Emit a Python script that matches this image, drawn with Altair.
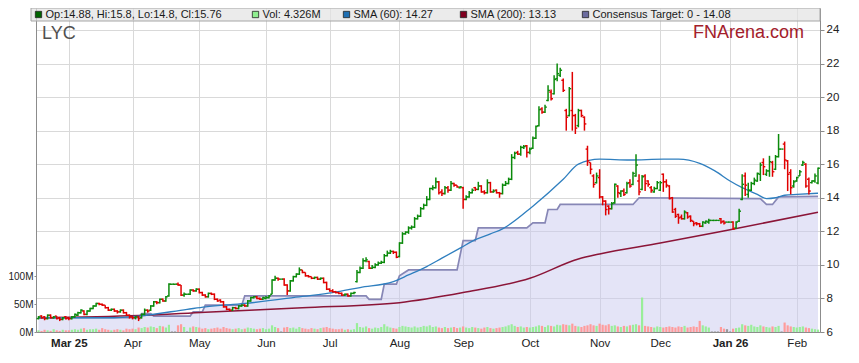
import altair as alt
import pandas as pd

# ---------------- data ----------------
opens = [
    6.80, 6.95, 6.90, 6.80, 7.00, 6.85, 6.95, 6.85, 6.75, 6.90,  # Feb 25
    6.85, 6.80, 6.90, 7.00, 7.15, 7.25, 7.05, 7.25, 7.40, 7.55, 7.70, 7.65, 7.60, 7.45, 7.30, 7.35, 7.25, 7.20, 7.30, 7.15, 7.00,  # Mar
    6.90, 6.85, 6.90, 6.85, 7.05, 7.30, 7.30, 7.55, 7.80, 7.75, 7.95, 7.85, 8.15, 8.85, 8.85, 8.85, 8.80, 8.20, 8.25, 8.25, 8.50, 8.45,  # Apr
    8.55, 8.35, 8.20, 8.10, 8.30, 8.25, 7.95, 7.90, 7.80, 7.50, 7.35, 7.30, 7.45, 7.40, 7.55, 7.60, 7.55, 7.85, 8.05, 8.10, 8.00, 7.95,  # May
    8.00, 8.05, 8.25, 9.10, 9.20, 9.15, 9.15, 8.80, 8.45, 9.05, 9.30, 9.45, 9.70, 9.55, 9.35, 9.30, 9.20, 9.25, 9.15, 9.20, 8.95,  # Jun
    8.55, 8.45, 8.40, 8.35, 8.30, 8.20, 8.25, 8.15, 8.30, 9.00, 9.55, 9.80, 10.25, 10.20, 9.80, 9.85, 10.00, 10.10, 10.15, 10.55, 10.70, 10.80, 10.75,  # Jul
    10.50, 11.30, 11.85, 11.95, 12.20, 12.25, 12.75, 12.90, 13.35, 13.55, 13.90, 14.55, 14.60, 14.95, 14.35, 14.25, 14.60, 14.45, 14.85, 14.75, 14.60,  # Aug
    14.60, 13.90, 14.05, 14.30, 14.60, 14.50, 14.70, 14.35, 14.30, 14.90, 14.35, 14.45, 14.30, 14.25, 14.75, 14.85, 15.10, 16.40, 16.70, 16.60, 17.00, 17.10,  # Sep
    16.70, 16.95, 17.55, 18.30, 19.30, 19.10, 19.80, 20.30, 20.20, 21.10, 21.30, 21.00, 19.20, 18.90, 19.20, 18.90, 18.30, 19.20, 18.80, 16.90, 16.10, 15.30, 14.90,  # Oct
    15.20, 14.05, 13.80, 13.50, 13.35, 13.70, 14.70, 14.25, 14.40, 14.30, 14.90, 14.80, 15.30, 15.00, 14.50, 15.30, 15.00, 14.60, 14.35, 14.55,  # Nov
    14.45, 15.40, 14.95, 14.70, 14.00, 13.30, 13.00, 12.85, 12.75, 13.10, 12.90, 12.60, 12.50, 12.45, 12.30, 12.50, 12.55, 12.65, 12.65, 12.65, 12.75, 12.60, 12.55,  # Dec
    12.55, 12.55, 12.20, 12.60, 13.90, 15.30, 14.20, 14.45, 14.85, 15.00, 15.40, 16.10, 15.40, 15.60, 16.10, 15.70, 16.45, 16.90, 17.20, 16.20, 15.50, 14.70,  # Jan 26
    15.00, 15.30, 15.95, 16.00, 15.10, 14.90, 15.00, 14.88,  # Feb
]
highs = [
    6.95, 7.00, 6.95, 7.05, 7.05, 6.95, 6.95, 6.90, 6.90, 6.95,
    6.90, 6.95, 7.10, 7.20, 7.35, 7.30, 7.30, 7.45, 7.60, 7.75, 7.75, 7.70, 7.60, 7.50, 7.40, 7.40, 7.30, 7.35, 7.35, 7.20, 7.05,
    6.95, 6.95, 6.95, 7.10, 7.40, 7.35, 7.60, 7.85, 7.85, 8.00, 8.00, 8.15, 8.90, 8.85, 8.85, 8.95, 8.80, 8.35, 8.25, 8.55, 8.55, 8.60,
    8.60, 8.40, 8.25, 8.35, 8.35, 8.30, 8.00, 7.95, 7.85, 7.55, 7.40, 7.50, 7.50, 7.60, 7.65, 7.65, 7.90, 8.10, 8.15, 8.15, 8.05, 8.10,
    8.15, 8.20, 9.15, 9.35, 9.25, 9.15, 9.20, 8.85, 9.10, 9.35, 9.50, 9.85, 9.70, 9.55, 9.40, 9.30, 9.30, 9.30, 9.25, 9.25, 9.00,
    8.60, 8.55, 8.45, 8.40, 8.35, 8.30, 8.30, 8.35, 8.40, 9.70, 9.90, 10.40, 10.45, 10.25, 10.00, 10.10, 10.20, 10.25, 10.65, 10.85, 10.90, 10.85, 10.80,
    11.35, 11.95, 12.00, 12.30, 12.35, 12.85, 13.00, 13.45, 13.65, 14.10, 14.60, 14.75, 15.20, 15.00, 14.50, 14.70, 14.70, 15.00, 14.90, 14.75, 14.70,
    14.65, 14.15, 14.40, 14.55, 14.65, 14.95, 14.75, 14.45, 15.10, 14.95, 14.50, 14.50, 14.35, 14.85, 15.00, 15.20, 16.60, 16.75, 16.80, 17.10, 17.15, 17.15,
    17.00, 17.65, 18.30, 19.45, 19.40, 19.55, 20.70, 20.45, 21.30, 22.00, 21.75, 21.10, 19.30, 20.60, 21.50, 19.00, 19.30, 19.25, 18.85, 17.10, 16.10, 15.40, 15.50,
    15.70, 14.10, 13.85, 13.55, 13.75, 14.85, 14.75, 14.45, 14.55, 14.95, 15.10, 15.55, 16.60, 15.40, 15.35, 15.40, 15.05, 14.70, 14.65, 15.00,
    15.00, 15.45, 15.10, 14.75, 14.05, 13.40, 13.05, 13.00, 13.25, 13.15, 12.95, 12.60, 12.55, 12.50, 12.60, 12.65, 12.75, 12.65, 12.65, 12.65, 12.80, 12.65, 12.55,
    12.55, 12.60, 12.60, 13.35, 15.40, 15.50, 14.90, 14.95, 15.20, 15.50, 16.10, 16.35, 15.70, 16.50, 16.20, 16.55, 17.80, 16.90, 17.35, 16.25, 15.70, 15.05,
    15.25, 15.65, 16.20, 16.05, 15.20, 15.05, 15.45, 15.80,
]
lows = [
    6.75, 6.80, 6.70, 6.75, 6.80, 6.80, 6.75, 6.65, 6.70, 6.75,
    6.70, 6.75, 6.85, 6.95, 7.10, 7.00, 7.00, 7.20, 7.35, 7.50, 7.60, 7.55, 7.40, 7.25, 7.25, 7.20, 7.10, 7.15, 7.10, 6.95, 6.80,
    6.75, 6.75, 6.65, 6.80, 7.00, 7.15, 7.25, 7.50, 7.65, 7.70, 7.80, 7.80, 8.10, 8.85, 8.85, 8.75, 8.15, 8.10, 8.25, 8.20, 8.40, 8.40,
    8.30, 8.15, 8.05, 8.05, 8.20, 7.90, 7.80, 7.75, 7.45, 7.30, 7.25, 7.25, 7.35, 7.35, 7.50, 7.50, 7.50, 7.80, 8.00, 7.95, 7.90, 7.90,
    7.95, 8.00, 8.25, 9.05, 9.05, 9.15, 8.75, 8.20, 8.40, 9.00, 9.25, 9.40, 9.50, 9.30, 9.25, 9.15, 9.15, 9.10, 9.10, 8.90, 8.50,
    8.40, 8.35, 8.30, 8.25, 8.15, 8.15, 8.10, 8.10, 8.25, 8.95, 9.50, 9.75, 10.15, 9.75, 9.75, 9.80, 9.95, 10.05, 10.10, 10.50, 10.65, 10.65, 10.40,
    10.45, 11.25, 11.80, 11.85, 12.10, 12.20, 12.70, 12.85, 13.30, 13.50, 13.85, 14.45, 14.55, 14.20, 14.10, 14.20, 14.30, 14.40, 14.65, 14.60, 14.55,
    13.35, 13.85, 14.00, 14.25, 14.40, 14.45, 14.30, 14.20, 14.25, 14.30, 14.30, 14.25, 14.00, 14.20, 14.70, 14.80, 15.05, 16.30, 16.55, 16.50, 16.90, 16.40,
    16.60, 16.90, 17.50, 18.25, 19.00, 19.05, 19.75, 19.80, 20.15, 20.95, 21.20, 20.30, 18.00, 18.85, 18.00, 17.80, 18.20, 18.80, 18.00, 15.90, 15.40, 14.60, 14.85,
    13.95, 13.55, 12.95, 13.00, 13.30, 13.65, 14.00, 14.05, 14.10, 14.25, 14.60, 14.75, 15.25, 14.15, 14.45, 14.40, 14.65, 14.30, 14.30, 14.50,
    14.40, 14.35, 14.60, 13.90, 13.10, 12.80, 12.45, 12.70, 12.70, 12.75, 12.55, 12.30, 12.35, 12.25, 12.25, 12.45, 12.45, 12.65, 12.65, 12.65, 12.45, 12.40, 12.55,
    12.55, 12.10, 12.15, 12.55, 13.85, 14.10, 14.00, 14.40, 14.75, 14.95, 15.00, 15.35, 15.30, 15.25, 15.25, 15.65, 16.40, 16.90, 15.70, 14.40, 14.20, 14.60,
    14.95, 15.30, 15.90, 14.60, 14.20, 14.85, 14.90, 14.80,
]
closes = [
    6.90, 6.85, 6.80, 7.00, 6.85, 6.90, 6.80, 6.75, 6.85, 6.80,
    6.80, 6.90, 7.05, 7.15, 7.30, 7.05, 7.25, 7.40, 7.55, 7.70, 7.65, 7.60, 7.45, 7.30, 7.35, 7.25, 7.20, 7.30, 7.15, 7.00, 6.90,
    6.85, 6.90, 6.80, 7.05, 7.30, 7.25, 7.55, 7.80, 7.75, 7.95, 7.85, 8.10, 8.85, 8.85, 8.85, 8.80, 8.20, 8.25, 8.25, 8.50, 8.45, 8.55,
    8.35, 8.20, 8.10, 8.30, 8.25, 7.95, 7.85, 7.80, 7.50, 7.35, 7.30, 7.45, 7.40, 7.55, 7.60, 7.55, 7.85, 8.05, 8.10, 8.00, 7.95, 8.05,
    8.05, 8.15, 9.10, 9.20, 9.15, 9.15, 8.80, 8.45, 9.05, 9.30, 9.45, 9.70, 9.55, 9.35, 9.30, 9.20, 9.25, 9.15, 9.20, 8.95, 8.55,
    8.45, 8.40, 8.35, 8.30, 8.20, 8.25, 8.15, 8.30, 8.35, 9.55, 9.80, 10.25, 10.30, 9.80, 9.85, 10.00, 10.10, 10.15, 10.55, 10.70, 10.80, 10.75, 10.45,
    11.30, 11.85, 11.95, 12.20, 12.25, 12.75, 12.90, 13.35, 13.55, 13.90, 14.55, 14.60, 14.95, 14.30, 14.25, 14.60, 14.45, 14.85, 14.75, 14.65, 14.65,
    13.90, 14.05, 14.30, 14.45, 14.50, 14.70, 14.35, 14.30, 14.90, 14.35, 14.40, 14.30, 14.25, 14.75, 14.85, 15.10, 16.40, 16.65, 16.60, 17.00, 17.05, 16.70,
    16.90, 17.55, 18.25, 19.25, 19.10, 19.40, 20.40, 19.90, 21.05, 21.40, 21.60, 20.40, 18.80, 20.50, 18.90, 18.15, 19.20, 18.90, 18.40, 16.20, 15.70, 14.80, 15.30,
    14.05, 13.80, 13.30, 13.35, 13.65, 14.80, 14.30, 14.40, 14.20, 14.85, 14.70, 15.45, 15.95, 14.35, 15.25, 14.85, 14.80, 14.45, 14.55, 14.90,
    14.90, 14.95, 14.75, 13.95, 13.15, 12.90, 12.80, 12.75, 13.15, 12.85, 12.65, 12.45, 12.45, 12.30, 12.55, 12.60, 12.65, 12.65, 12.65, 12.65, 12.55, 12.50, 12.55,
    12.55, 12.15, 12.55, 13.20, 14.80, 14.75, 14.45, 14.85, 15.05, 15.45, 15.95, 15.85, 15.60, 16.15, 15.55, 16.45, 16.90, 16.90, 16.25, 15.40, 14.60, 14.95,
    15.20, 15.55, 16.10, 14.70, 14.40, 15.00, 15.30, 15.76,
]
volumes_m = [
    3, 2, 4, 3, 2, 5, 3, 2, 4, 3,
    3, 4, 5, 4, 6, 7, 4, 5, 5, 6, 4, 7, 5, 4, 3, 4, 5, 4, 3, 6, 5,
    6, 5, 8, 7, 9, 8, 10, 9, 7, 11, 10, 8, 13, 1, 1, 12, 14, 9, 1, 8, 10, 9,
    8, 6, 7, 5, 6, 7, 8, 6, 9, 7, 6, 5, 6, 7, 5, 6, 8, 7, 6, 5, 6, 7,
    5, 6, 12, 9, 7, 1, 8, 9, 7, 8, 6, 9, 7, 6, 5, 7, 6, 5, 7, 8, 9,
    7, 6, 5, 5, 6, 4, 5, 4, 5, 16, 9, 8, 10, 7, 6, 8, 7, 9, 14, 10, 8, 7, 6,
    9, 11, 10, 9, 8, 10, 8, 9, 11, 10, 12, 9, 10, 8, 7, 9, 7, 8, 9, 7, 8,
    10, 8, 7, 9, 8, 7, 6, 8, 9, 7, 6, 7, 8, 9, 10, 12, 14, 11, 9, 10, 8, 9,
    8, 9, 10, 12, 11, 9, 12, 11, 10, 13, 12, 14, 13, 12, 15, 11, 10, 9, 11, 12, 14, 12, 11,
    15, 13, 12, 14, 11, 12, 10, 9, 11, 10, 12, 13, 14, 12, 62, 11, 10, 9, 8, 10,
    9, 8, 9, 10, 9, 8, 10, 9, 11, 8, 9, 10, 9, 20, 12, 10, 8, 1, 1, 1, 9, 6, 5,
    1, 6, 7, 8, 14, 12, 11, 13, 10, 9, 12, 10, 9, 8, 10, 9, 11, 1, 17, 12, 10, 9,
    8, 9, 10, 8, 7, 6, 5, 4.326,
]

# moving averages and consensus target (bar index, value)
sma60_idx = [0, 25, 33, 49, 55, 68, 87, 97, 106, 117, 122, 128, 133, 139, 144, 149, 153, 163, 173, 178,
             185, 195, 206, 211, 218, 223, 228, 232, 237, 240, 243, 246, 250, 257]
sma60_val = [6.85, 6.85, 6.95, 7.35, 7.5, 7.7, 8.12, 8.35, 8.65, 9.0, 9.4, 9.9, 10.4, 11.0, 11.5, 11.85,
             12.15, 13.5, 15.1, 16.0, 16.3, 16.25, 16.3, 16.3, 16.05, 15.6, 15.0, 14.6, 14.2, 13.95, 14.0,
             14.15, 14.2, 14.27]
sma200_idx = [0, 33, 55, 87, 119, 140, 162, 178, 185, 205, 228, 257]
sma200_val = [6.85, 6.98, 7.18, 7.45, 7.75, 8.35, 9.2, 10.35, 10.65, 11.3, 12.1, 13.13]
target_idx = [0, 33, 34, 37, 38, 50, 51, 54, 55, 67, 68, 108, 109, 113, 114, 118, 119, 122, 138, 140,
              144, 145, 161, 163, 167, 168, 171, 172, 196, 198, 238, 240, 242, 244, 257]
target_val = [6.85, 6.85, 7.1, 7.1, 6.95, 6.95, 7.2, 7.2, 7.6, 7.6, 8.15, 8.15, 7.95, 7.95, 8.85, 8.85,
              9.35, 9.7, 9.7, 11.45, 11.45, 12.2, 12.2, 12.5, 12.5, 13.3, 13.3, 13.6, 13.6, 14.0, 13.95,
              13.6, 13.6, 14.05, 14.08]

ticker = "LYC"
brand = "FNArena.com"
legend_labels = ["Op:14.88, Hi:15.8, Lo:14.8, Cl:15.76", "Vol: 4.326M", "SMA (60): 14.27",
                 "SMA (200): 13.13", "Consensus Target: 0 - 14.08"]
legend_colors = ["#006400", "#90ee90", "#1f6fb2", "#800020", "#6b6b9e"]
price_ticks = [6, 8, 10, 12, 14, 16, 18, 20, 22, 24]
volume_ticks = [0, 50, 100]

# ---------------- layout ----------------
PAD_L = 28                      # plot left edge at page x = 8 + PAD_L
W, H = 820 - 8 - PAD_L, 324
legend_x = [2.5, 219.5, 310.5, 427.5, 549.5]   # swatch centres (plot px)
FONT = "Liberation Sans, Arial, sans-serif"
UP, DOWN = "#0b8a0b", "#e00000"

n = min(len(opens), len(highs), len(lows), len(closes), len(volumes_m))
dates = pd.bdate_range("2025-02-17", periods=n)
df = pd.DataFrame({
    "i": list(range(n)), "o": opens[:n], "h": highs[:n], "l": lows[:n],
    "c": closes[:n], "v": volumes_m[:n],
})
df["pc"] = [UP if c >= o else DOWN for o, c in zip(df.o, df.c)]
df["vc"] = ["#99ee99" if c > o else ("#ff9b9b" if c < o else "#999999") for o, c in zip(df.o, df.c)]

tick_idx, tick_lab = [], []
for k in range(1, n):
    if dates[k].month != dates[k - 1].month:
        lab = dates[k].strftime("%b")
        if dates[k].month == 1 or not tick_idx:
            lab += " " + dates[k].strftime("%y")
        tick_idx.append(k)
        tick_lab.append(lab)
label_expr = " : ".join(f"datum.value == {k} ? '{t}'" for k, t in zip(tick_idx, tick_lab)) + " : ''"
bold_test = " || ".join(f"datum.value == {k}" for k, t in zip(tick_idx, tick_lab) if " " in t) or "false"

# first bar ~2.5 px inside the left edge, last bar at page x ~818
step = (W - 2.5 - 2.0) / (n - 1)
x_sc = alt.Scale(domain=[-2.5 / step, (W - 2.5) / step], nice=False, zero=False)
p_sc = alt.Scale(domain=[6, 6 + H / 16.78], nice=False, zero=False)
v_sc = alt.Scale(domain=[0, H / 27.8 * 50], nice=False, zero=True)

x_axis = alt.Axis(values=tick_idx, labelExpr=label_expr, grid=True, gridColor="#d9d9d9", gridWidth=1,
                  ticks=False, domain=True, domainColor="#8c8c8c", labelFont=FONT, labelFontSize=11.5,
                  labelColor="#222", labelPadding=5, labelOverlap=False, labelFlush=False, title=None,
                  labelFontWeight={"condition": {"test": bold_test, "value": "bold"}, "value": "normal"})
X = alt.X("i:Q", scale=x_sc, axis=x_axis)

base = alt.Chart(df)

tgt_df = pd.DataFrame({"i": target_idx, "t": target_val})
area = alt.Chart(tgt_df).mark_area(color="#c9c9ef", opacity=0.5, clip=True).encode(
    x=X,
    y=alt.Y("t:Q", scale=p_sc, axis=alt.Axis(orient="right", values=price_ticks, grid=True,
            gridColor="#d9d9d9", tickSize=4, tickColor="#8c8c8c", domainColor="#8c8c8c",
            labelFont=FONT, labelFontSize=11.5, labelColor="#222", labelPadding=2, title=None, format="d")),
    y2=alt.datum(0),
)
tline = alt.Chart(tgt_df).mark_line(color="#8787b6", strokeWidth=1.7, clip=True).encode(
    x=X, y=alt.Y("t:Q", scale=p_sc, axis=None))

vol = base.transform_calculate(xa="datum.i - 0.36", xb="datum.i + 0.36").mark_rect(clip=True).encode(
    x=alt.X("xa:Q", scale=x_sc, axis=x_axis), x2="xb:Q",
    y=alt.Y("v:Q", scale=v_sc, axis=alt.Axis(orient="left", values=volume_ticks, labelExpr="datum.value + 'M'",
            grid=False, tickSize=2, tickColor="#8c8c8c", domainColor="#8c8c8c", labelFont=FONT,
            labelFontSize=10, labelColor="#222", labelPadding=1, title=None)),
    y2=alt.datum(0),
    color=alt.Color("vc:N", scale=None),
)

s200 = alt.Chart(pd.DataFrame({"i": sma200_idx, "s": sma200_val})).mark_line(
    color="#8b1538", strokeWidth=1.5, interpolate="monotone", clip=True).encode(
    x=X, y=alt.Y("s:Q", scale=p_sc, axis=None))
s60 = alt.Chart(pd.DataFrame({"i": sma60_idx, "s": sma60_val})).mark_line(
    color="#2f7fbf", strokeWidth=1.3, interpolate="monotone", clip=True).encode(
    x=X, y=alt.Y("s:Q", scale=p_sc, axis=None))

col = alt.Color("pc:N", scale=None)
hl = base.mark_rule(strokeWidth=1.5).encode(
    x=X, y=alt.Y("l:Q", scale=p_sc, axis=None), y2="h:Q", color=col)
op = base.transform_calculate(xo="datum.i - 0.62").mark_rule(strokeWidth=1.4).encode(
    x=alt.X("xo:Q", scale=x_sc, axis=x_axis), x2="i:Q", y=alt.Y("o:Q", scale=p_sc, axis=None), color=col)
cl = base.transform_calculate(xc="datum.i + 0.62").mark_rule(strokeWidth=1.4).encode(
    x=X, x2="xc:Q", y=alt.Y("c:Q", scale=p_sc, axis=None), color=col)

leg_df = pd.DataFrame({"label": legend_labels, "color": legend_colors, "sx": legend_x})
leg_df["tx"] = leg_df["sx"] + 7
legbg = alt.Chart(pd.DataFrame({"a": [0]})).mark_rect(
    fill="#e2e2e2", fillOpacity=0.7, stroke="#a6a6a6", strokeWidth=1).encode(
    x=alt.value(-5), x2=alt.value(W), y=alt.value(0), y2=alt.value(13))
legsw = alt.Chart(leg_df).mark_square(size=40, opacity=1, stroke="#222", strokeWidth=0.8).encode(
    x=alt.X("sx:Q", scale=None), y=alt.value(6.5), fill=alt.Color("color:N", scale=None))
legtx = alt.Chart(leg_df).mark_text(align="left", baseline="middle", font=FONT, fontSize=11,
                                    color="#1a1a1a").encode(
    x=alt.X("tx:Q", scale=None), y=alt.value(7), text="label:N")

tick_txt = alt.Chart(pd.DataFrame({"t": [ticker]})).mark_text(
    align="left", baseline="alphabetic", font=FONT, fontSize=18, color="#505050").encode(
    x=alt.value(6), y=alt.value(31), text="t:N")
brand_txt = alt.Chart(pd.DataFrame({"t": [brand]})).mark_text(
    align="left", baseline="alphabetic", font=FONT, fontSize=18, color="#a3202b").encode(
    x=alt.value(657), y=alt.value(30), text="t:N")

chart = alt.layer(
    area, tline, vol, s200, s60, hl, op, cl, legbg, legsw, legtx, tick_txt, brand_txt
).resolve_scale(y="independent").properties(
    width=W, height=H, autosize=alt.AutoSizeParams(type="none"),
    padding={"left": PAD_L, "top": 0, "right": 30, "bottom": 25},
    background="white",
).configure_view(stroke=None)

chart.save("out.html", embed_options={"renderer": "svg", "actions": False})
